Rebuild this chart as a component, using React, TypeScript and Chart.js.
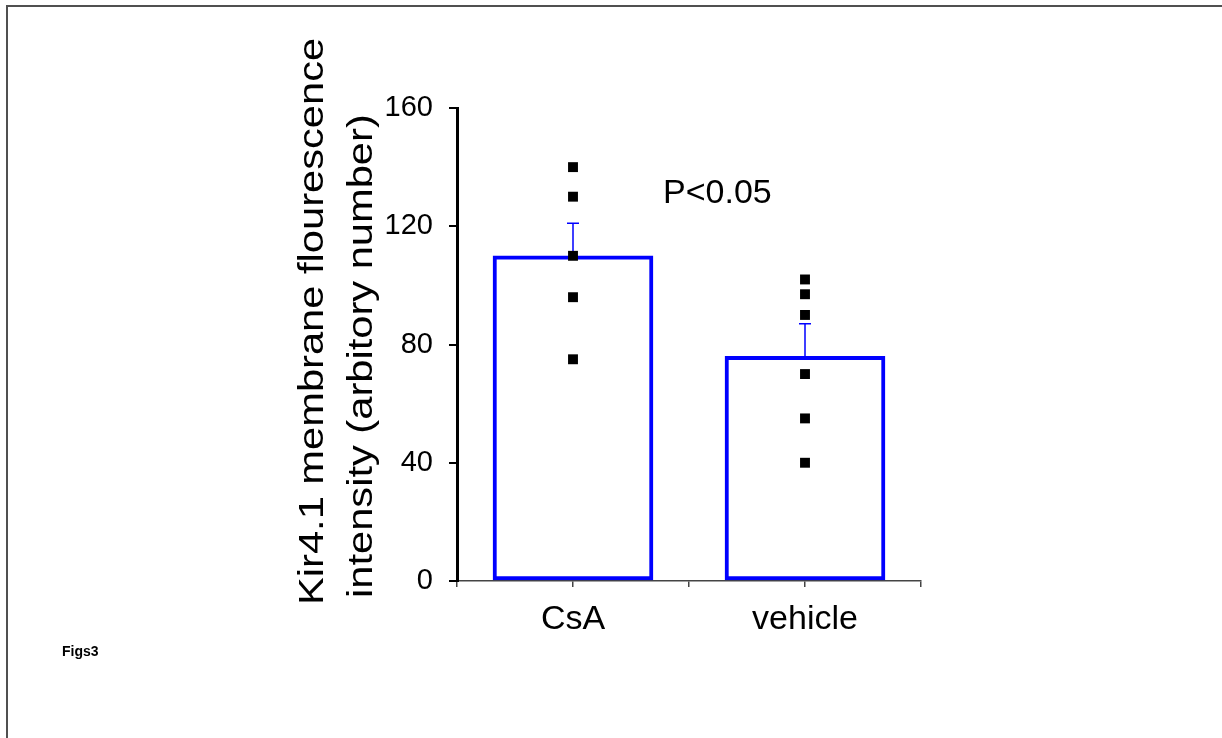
import React, { useEffect, useRef } from "react";
import { Chart, registerables } from "chart.js";

Chart.register(...registerables);

// ---- data ----
const categories = ["CsA", "vehicle"];
const meanValues = [110, 76];
const errorValues = [11, 11];
const csaPoints = [140, 130, 110, 96, 75];
const vehiclePoints = [102, 97, 90, 70, 55, 40];
const yTickStep = 40;
const yMin = 0;
const yMax = 160;
const yTitleLines = ["Kir4.1 membrane flourescence", "intensity (arbitory number)"];
const pLabel = "P<0.05";
const pLabelValue = 128;
const figLabel = "Figs3";

const FONT = '"Liberation Sans", Arial, Helvetica, sans-serif';

const errorBarPlugin = {
  id: "errorBars",
  beforeDatasetsDraw(chart: any) {
    const meta = chart.getDatasetMeta(1);
    const yScale = chart.scales.y;
    const ctx = chart.ctx;
    ctx.save();
    ctx.strokeStyle = "#0000ff";
    ctx.lineWidth = 1.5;
    meta.data.forEach((el: any, i: number) => {
      const top = yScale.getPixelForValue(meanValues[i] + errorValues[i]);
      ctx.beginPath();
      ctx.moveTo(el.x, el.y);
      ctx.lineTo(el.x, top);
      ctx.moveTo(el.x - 6, top);
      ctx.lineTo(el.x + 6, top);
      ctx.stroke();
    });
    ctx.restore();
  },
};

const textPlugin = {
  id: "extraText",
  afterDraw(chart: any) {
    const { ctx, chartArea } = chart;
    const xScale = chart.scales.x;
    const yScale = chart.scales.y;
    ctx.save();
    ctx.fillStyle = "#000";
    ctx.textBaseline = "alphabetic";
    ctx.textAlign = "left";
    // rotated y-axis title (two lines)
    ctx.font = `35px ${FONT}`;
    const anchors = [
      [chartArea.left - 134, chartArea.bottom + 24],
      [chartArea.left - 85, chartArea.bottom + 17],
    ];
    yTitleLines.forEach((line, i) => {
      ctx.save();
      ctx.translate(anchors[i][0], anchors[i][1]);
      ctx.rotate(-Math.PI / 2);
      ctx.scale(1.19, 1);
      ctx.fillText(line, 0, 0);
      ctx.restore();
    });
    // significance label
    ctx.font = `34px ${FONT}`;
    ctx.fillText(pLabel, xScale.getPixelForValue(0.5) - 26, yScale.getPixelForValue(pLabelValue));
    ctx.restore();
  },
};

export default function App() {
  const canvasRef = useRef<HTMLCanvasElement | null>(null);

  useEffect(() => {
    if (!canvasRef.current) return;
    const scatterData = [
      ...csaPoints.map((v) => ({ x: categories[0], y: v })),
      ...vehiclePoints.map((v) => ({ x: categories[1], y: v })),
    ];
    const chart = new Chart(canvasRef.current, {
      type: "bar",
      data: {
        labels: categories,
        datasets: [
          {
            type: "scatter",
            data: scatterData as any,
            pointStyle: "rect",
            pointRadius: 7,
            pointBorderWidth: 0,
            backgroundColor: "#000",
            borderColor: "#000",
            order: 0,
          } as any,
          {
            type: "bar",
            data: meanValues,
            backgroundColor: "#ffffff",
            borderColor: "#0000ff",
            borderWidth: 4,
            borderSkipped: false,
            barThickness: 160,
            order: 1,
          } as any,
        ],
      },
      options: {
        animation: false,
        responsive: false,
        devicePixelRatio: 1,
        layout: { padding: { left: 0, top: 108, right: 301, bottom: 97 } },
        plugins: { legend: { display: false }, tooltip: { enabled: false } },
        scales: {
          x: {
            type: "category",
            offset: true,
            afterBuildTicks: (scale: any) => {
              scale.ticks = [-0.5, 0, 0.5, 1, 1.5].map((v) => ({ value: v }));
            },
            afterFit: (scale: any) => {
              scale.height = 60;
            },
            grid: {
              offset: false,
              drawOnChartArea: false,
              drawTicks: true,
              tickLength: 6,
              color: "#444",
              lineWidth: 1.5,
            },
            border: { display: true, color: "#444", width: 1.5 },
            ticks: {
              autoSkip: false,
              maxRotation: 0,
              padding: 12,
              color: "#000",
              font: { family: FONT, size: 34 },
              callback: (v: any) => (Number.isInteger(v) ? categories[v] : ""),
            },
          },
          y: {
            type: "linear",
            min: yMin,
            max: yMax,
            afterFit: (scale: any) => {
              scale.width = 457;
            },
            grid: {
              drawOnChartArea: false,
              drawTicks: true,
              tickLength: 8,
              color: "#000",
              lineWidth: 2,
            },
            border: { display: true, color: "#000", width: 3 },
            ticks: {
              stepSize: yTickStep,
              padding: 16,
              color: "#000",
              font: { family: FONT, size: 29 },
            },
          },
        },
      },
      plugins: [errorBarPlugin, textPlugin],
    });
    return () => chart.destroy();
  }, []);

  return (
    <div
      style={{
        position: "fixed",
        left: 0,
        top: 0,
        width: 1222,
        height: 738,
        overflow: "hidden",
        background: "#fff",
      }}
    >
      <div
        style={{
          position: "absolute",
          left: 6,
          top: 5,
          width: 1300,
          height: 800,
          borderLeft: "2px solid #505050",
          borderTop: "2px solid #505050",
        }}
      />
      <canvas
        ref={canvasRef}
        width={1222}
        height={738}
        style={{ position: "absolute", left: 0, top: 0, display: "block" }}
      />
      <div
        style={{
          position: "absolute",
          left: 62,
          top: 643,
          fontFamily: FONT,
          fontWeight: "bold",
          fontSize: 14,
          color: "#000",
        }}
      >
        {figLabel}
      </div>
    </div>
  );
}
